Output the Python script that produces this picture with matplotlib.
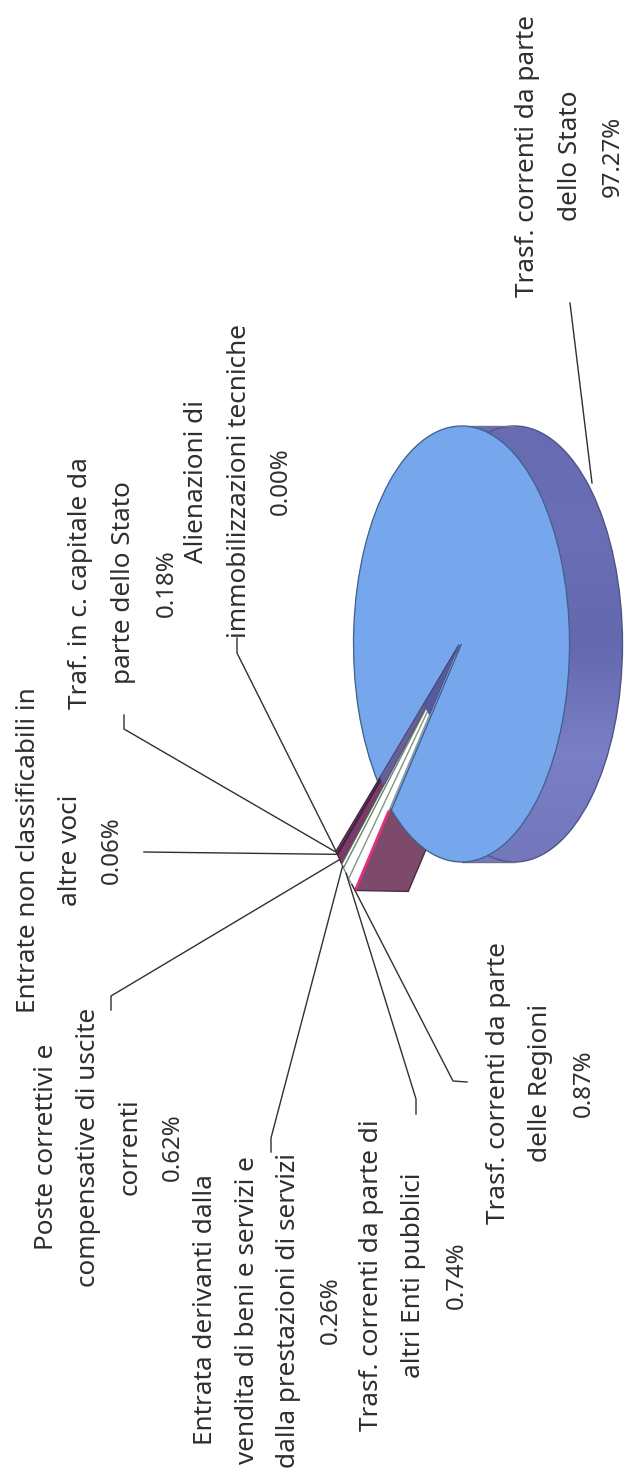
import numpy as np
import matplotlib
matplotlib.use("Agg")
import matplotlib.pyplot as plt
from matplotlib.patches import Wedge, Polygon, Ellipse, Rectangle
from matplotlib.transforms import Affine2D
from matplotlib.colors import LinearSegmentedColormap

plt.rcParams["font.family"] = ["Noto Sans", "DejaVu Sans"]

# Share of revenue per item, ordered around the exploded part of the pie
categories = [
    "Alienazioni di immobilizzazioni tecniche",
    "Traf. in c. capitale da parte dello Stato",
    "Entrate non classificabili in altre voci",
    "Poste correttivi e compensative di uscite correnti",
    "Entrata derivanti dalla vendita di beni e servizi e dalla prestazioni di servizi",
    "Trasf. correnti da parte di altri Enti pubblici",
    "Trasf. correnti da parte delle Regioni",
]
small_values = [0.00, 0.18, 0.06, 0.62, 0.26, 0.74, 0.87]
main_category = "Trasf. correnti da parte dello Stato"
main_value = 97.27

# Label lines: text, baseline columns and vertical centre
label_lines = [
    ["Alienazioni di", "immobilizzazioni tecniche", "0.00%"],
    ["Traf. in c. capitale da", "parte dello Stato", "0.18%"],
    ["Entrate non classificabili in", "altre voci", "0.06%"],
    ["Poste correttivi e", "compensative di uscite", "correnti", "0.62%"],
    ["Entrata derivanti dalla", "vendita di beni e servizi e", "dalla prestazioni di servizi", "0.26%"],
    ["Trasf. correnti da parte di", "altri Enti pubblici", "0.74%"],
    ["Trasf. correnti da parte", "delle Regioni", "0.87%"],
]
label_columns = [
    [203, 246, 287],
    [87, 130, 173],
    [35, 77, 118],
    [53, 95, 137, 179],
    [212, 254, 295, 337],
    [378, 420, 463],
    [505, 547, 590],
]
label_centres = [481, 583, 850, 1147, 1310, 1275, 1083]
main_lines = ["Trasf. correnti da parte", "dello Stato", "97.27%"]
main_columns = [534, 577, 619]
main_centre = 156

# Leader elbows: the free end of each leader and its bend
leader_paths = [
    [(237, 638), (237, 653)],
    [(124, 715), (124, 729)],
    [(144, 852)],
    [(111, 1010), (111, 996)],
    [(271, 1152), (271, 1138)],
    [(416, 1114), (416, 1099)],
    [(467, 1082), (453, 1081)],
]
main_leader = [(570, 303), (592, 483)]

# Projection of the tilted disc
CX, CY = 461.5, 644.0
RX, RY = 108.0, 218.0
APEX_X, APEX_Y = 459.0, 645.0
DEPTH = 53.0
EXPLODE = 1.48
TOP_ANGLE = 140.3
INK = "#303030"

slice_colors = ["#7d3a68", "#7d3a68", "#8a3a70", "#7d3a68", "#ffffff", "#ffffff", "#ffffff"]
slice_edges = ["#3f2440", "#3f2440", "#3f2440", "#3f2440", "#55705a", "#6f8a72", "#8a9a8a"]

fig = plt.figure(figsize=(6.25, 14.7), dpi=100)
ax = fig.add_axes([0, 0, 1, 1])
ax.set_xlim(0, 625)
ax.set_ylim(1470, 0)
ax.axis("off")

disc = Affine2D().scale(RX, RY).translate(CX, CY) + ax.transData
cut = Affine2D().scale(RX, RY).translate(APEX_X, APEX_Y) + ax.transData


def on_cut(radius, angle):
    t = np.deg2rad(angle)
    return APEX_X + RX * radius * np.cos(t), APEX_Y + RY * radius * np.sin(t)


# Rim of the disc, shaded from top to bottom
rim = Ellipse((CX + DEPTH, CY), 2 * RX, 2 * RY, fc="none", ec="none")
ax.add_patch(rim)
band = Rectangle((CX, CY - RY), DEPTH, 2 * RY, fc="none", ec="none")
ax.add_patch(band)
rim_cmap = LinearSegmentedColormap.from_list("rim", ["#676cb2", "#6a6eb4", "#6468ae", "#7a7fc6", "#7378bc"])
gradient = np.linspace(0, 1, 256).reshape(-1, 1)
for clip in (rim, band):
    img = ax.imshow(gradient, cmap=rim_cmap, aspect="auto",
                    extent=(CX - RX, CX + DEPTH + RX, CY + RY, CY - RY), zorder=1)
    img.set_clip_path(clip)
ax.add_patch(Ellipse((CX + DEPTH, CY), 2 * RX, 2 * RY, fc="none", ec="#4f5488", lw=1.0, zorder=1.5))
ax.plot([CX, CX + DEPTH], [CY - RY, CY - RY], color="#6f7290", lw=1.0, zorder=1.5)
ax.plot([CX, CX + DEPTH], [CY + RY, CY + RY], color="#6f7290", lw=1.0, zorder=1.5)

# Angular ranges follow the values, running from the top of the cut downwards
spans = np.array(small_values) * 3.6
upper = TOP_ANGLE - np.concatenate(([0], np.cumsum(spans)[:-1]))
lower = upper - spans
bottom_angle = lower[-1]

# Cut face of the large slice, extruded along the rim direction
cut_start = on_cut(0, bottom_angle)
cut_end = on_cut(EXPLODE, bottom_angle)
ax.add_patch(Polygon([cut_start, cut_end, (cut_end[0] + DEPTH, cut_end[1] + 1),
                      (cut_start[0] + DEPTH, cut_start[1] + 1)],
                     closed=True, fc="#7d4a6c", ec="#4a2c48", lw=1.0, zorder=2))

# Top face: the large slice over a backing ellipse of the same colour
ax.add_patch(Ellipse((CX, CY), 2 * RX, 2 * RY, fc="#76a6ec", ec="none", zorder=2.5))
main_span = main_value * 3.6
ax.add_patch(Wedge((0, 0), 1, TOP_ANGLE, TOP_ANGLE + main_span, transform=disc,
                   fc="#76a6ec", ec="#3f5f8c", lw=0.9, zorder=3))

# Exploded slices
for i, (lo, hi) in enumerate(zip(lower, upper)):
    if hi - lo <= 0:
        continue
    ax.add_patch(Wedge((0, 0), EXPLODE, lo, hi, transform=cut,
                       fc=slice_colors[i], ec=slice_edges[i], lw=0.9, zorder=4))
# Inner part of the cut, where the slices recede towards the centre
ax.add_patch(Wedge((0, 0), 0.42, bottom_angle, TOP_ANGLE, transform=cut,
                   fc="#58589c", ec="#4a4a90", lw=0.6, zorder=5))
ax.add_patch(Wedge((0, 0), 0.95, lower[3], TOP_ANGLE, width=0.53, transform=cut,
                   fc="#665f98", ec="#55507f", lw=0.6, zorder=5))

# Bright edge of the last slice
pink_a = on_cut(1.0, bottom_angle)
ax.plot([pink_a[0], cut_end[0]], [pink_a[1], cut_end[1]], color="#e0307f", lw=2.0, zorder=6,
        solid_capstyle="butt")

# Leaders run from the middle of each slice's outer rim to the label
for path, lo, hi in zip(leader_paths, lower, upper):
    anchor = on_cut(EXPLODE, 0.5 * (lo + hi))
    pts = path + [anchor]
    ax.plot([p[0] for p in pts], [p[1] for p in pts], color=INK, lw=1.0, zorder=7)
ax.plot([p[0] for p in main_leader], [p[1] for p in main_leader], color=INK, lw=1.0, zorder=7)


# Rotated labels, one line per column; percentages are set slightly smaller
def draw_label(lines, columns, centre):
    for text, x in zip(lines, columns):
        size = 17.3 if text.endswith("%") else 18.8
        ax.text(x, centre, text, rotation=90, rotation_mode="anchor", ha="center",
                va="baseline", fontsize=size, color="#2e2e2e", zorder=8)


for lines, columns, centre in zip(label_lines, label_columns, label_centres):
    draw_label(lines, columns, centre)
draw_label(main_lines, main_columns, main_centre)

fig.savefig("out.png", dpi=100, facecolor="white")
